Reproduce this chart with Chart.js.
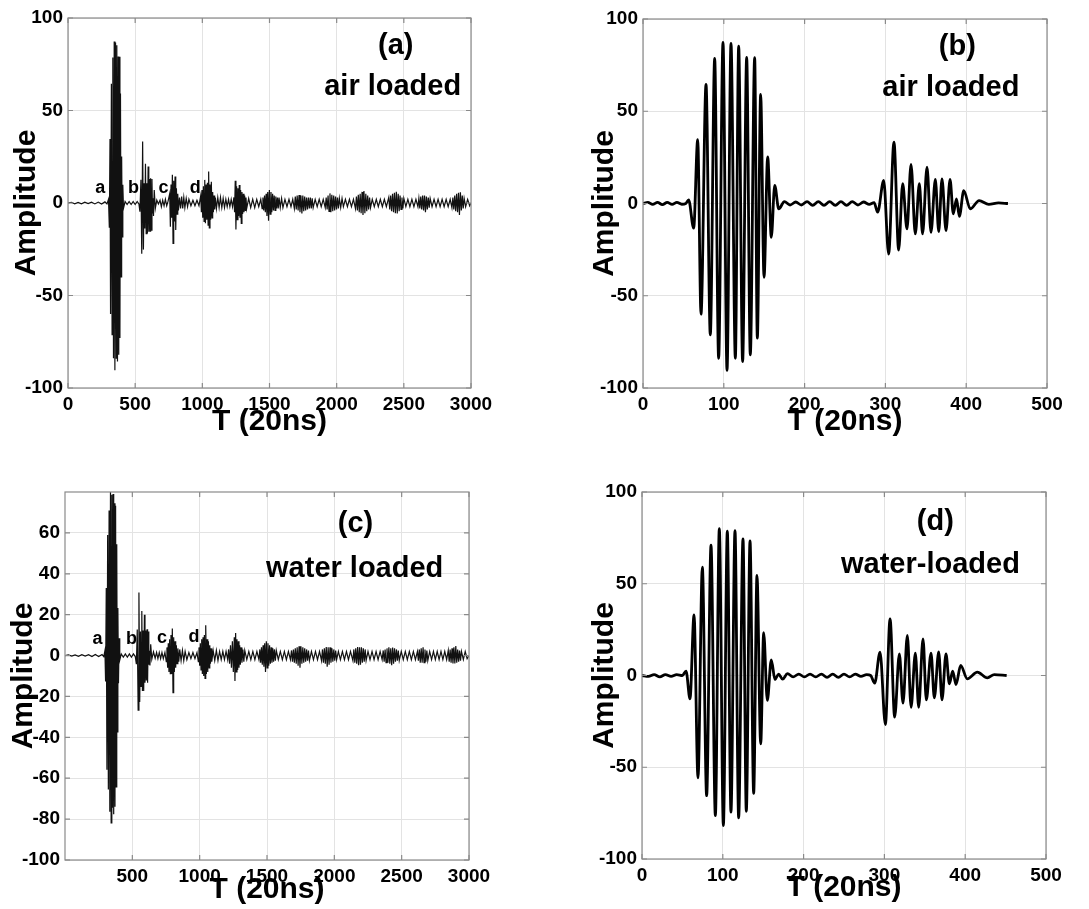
<!DOCTYPE html>
<html>
<head>
<meta charset="utf-8">
<script src="https://cdn.jsdelivr.net/npm/chart.js@4.4.1/dist/chart.umd.min.js"></script>
<style>
body { margin: 0; background: #fff; }
#wrap { position: relative; width: 1089px; height: 909px; }
canvas { position: absolute; }
</style>
</head>
<body>
<div id="wrap">
<canvas id="pa" width="545" height="450" style="left:0;top:0"></canvas>
<canvas id="pb" width="544" height="450" style="left:545px;top:0"></canvas>
<canvas id="pc" width="545" height="449" style="left:0;top:460px"></canvas>
<canvas id="pd" width="544" height="449" style="left:545px;top:460px"></canvas>
</div>
<script>
// (a) air loaded, full record (T in 20ns units)
var aTime = [
  0,25,50,75,100,125,150,175,200,225,250,275,290,
  301.5,307.7,312.7,316.8,323,328.3,333.7,338.6,344,349,353.9,359.3,363.4,368.3,373.3,377.8,383.2,386.5,390.6,394.8,399.3,403.8,408,413,
  425,440,455,470,485,500,515,528,
  535.4,542.9,549,555.6,561.4,566.4,571.7,576.7,582,587,591,596.5,601.4,606.8,611,615,620,625,629,633,636.5,642,650,661,673,
  685,695,705,715,725,735,745,
  757,762,767,772,777,782,787,792,797,802,807,812,817,822,
  830,838,846,854,862,870,880,890,900,915,930,945,960,975,
  988,993,998,1003,1008,1013,1018,1023,1028,1033,1038,1043,1047,1052,1057,1062,1067,1072,1077,1082,1087,1092,1097,
  1105,1115,1125,1135,1145,1155,1165,1175,1185,1195,1205,1215,1225,
  1235,1240,1245,1250,1255,1260,1265,1270,1275,1280,1285,1290,1295,1300,1305,1310,1315,1320,1325,1330,
  1345,1360,1375,1390,1405,1420,1435,
  1445,1451,1457,1463,1469,1475,1481,1487,1493,1499,1505,1511,1517,1523,1529,1535,1541,1547,1553,1559,1565,1571,1580,1590,1600,
  1615,1630,1645,1660,1673,
  1685,1692,1699,1706,1713,1720,1727,1734,1741,1748,1755,1762,1769,1776,1783,1790,1797,1804,1811,1818,1825,
  1840,1855,1870,1885,1900,
  1915,1922,1929,1936,1943,1950,1957,1964,1971,1978,1985,1992,1999,2006,2013,2020,2030,2040,2050,
  2065,2080,2095,2110,2125,
  2140,2147,2154,2161,2168,2175,2182,2189,2196,2203,2210,2217,2224,2231,2238,2245,2252,
  2265,2280,2295,2310,2325,2340,2355,2370,
  2388,2395,2402,2409,2416,2423,2430,2437,2444,2451,2458,2465,2472,2479,2486,2493,2500,
  2515,2530,2545,2560,2575,2590,2605,
  2612,2619,2626,2633,2640,2647,2654,2661,2668,2675,2682,2689,2696,
  2710,2725,2740,2755,2770,2785,2800,2815,2830,2845,
  2858,2865,2872,2879,2886,2893,2900,2907,2914,2921,2928,2935,2942,2949,
  2960,2975,2990,3000
];
var aAmp = [
  0,0.4,-0.4,0.3,-0.4,0.4,-0.3,0.4,-0.5,0.5,-0.6,0.6,-0.5,
  2,-13.4,34.6,-60,64.5,-71.2,78.6,-83.9,87.3,-90.4,86.8,-83.9,85.3,-85.7,79.2,-82,79,-73,59.2,-40,25.2,-18.3,9.8,-2.9,
  0.8,-0.8,0.8,-0.8,0.8,-0.8,0.8,-0.5,
  -4.7,12.5,-27.4,33.3,-25.2,10.7,-13.8,21.2,-16.5,10.7,-16.5,19.7,-15.6,13,-15.2,13.4,-14.7,13,-5.6,2.5,-7,7,-2.9,1.6,-0.5,
  1.5,-2,1.5,-1.5,2,-1.5,1,
  5,-12.8,10,-8,15.2,-21.8,12,-10,14.3,-14.6,8,-6,5,-4,
  3,-3,3.5,-3,3,-2.5,2.5,-2,2,-1.5,1.5,-1.5,1.5,-1.5,
  4,-5,7,-8,9,-10,12.5,-11,10,-9,11,-12,17,-13.4,10,-9,11.5,-8,6,-5,4,-3.5,3,
  -3,3,-2.5,3,-2.5,2.5,-2.5,2,-2,2,-2,2,-2,
  3,-5,12,-14.3,9,-9,8,-7,9.7,-8,7,-11,6,-6,5,-5,4,-4,3,-3,
  2.5,-2.5,2,-2.5,2,-2,2,
  -3,3,-4,4,-5,5,-7,6,-9.6,7,-6,6,-5,5,-4,4,-4,3.5,-3,3,-3,3,-2.5,2.5,-2.5,
  2,-2,2,-2,2,
  -3,3.5,-3.5,4,-4,4.3,-5,4,-5.6,4,-4.5,3.5,-4,3,-3.5,3,-3,3,-3,2.5,-2.5,
  2,-2,2,-2,2,
  -2.5,3,-3.5,4,-4.5,5.2,-5,4.5,-4.5,4,-4,3.5,-3.5,3,-3,2.5,-2.5,2.5,-2,
  2,-2,2,-2,2,
  -3,3.5,-4,4.5,-5,5,-5.5,6,-6.5,6.5,-5.5,5,-4.5,4,-3.5,3,-2.5,
  2,-2,2,-2,2,-2,2,-2,
  3,-3.5,4,-4.5,5,-5,5.5,-5.5,6,-5.6,5,-4.5,4,-3.5,3,-3,2.5,
  -2,2,-2,2,-2,2,-2,
  2.5,-3,3.5,-3.5,4,-4,4,-5,3.5,-3.5,3,-2.5,2.5,
  -2,2,-2,2,-2,2,-2,2,-2,2,
  -2.5,3,-3.5,4,-4.5,5,-5,5.5,-6.5,5.8,-4,4,-3,2.5,
  -2,2,-1.5,0
];

// (b) air loaded, window
var bTime = [0,6,12,18,24,30,36,42,48,53,56.5,62.7,67.7,71.8,78,83.3,88.7,93.6,99,104,108.9,114.3,118.4,123.3,128.3,132.8,138.2,141.5,145.6,149.8,154.3,158.8,163,168,175,182,189,196,203,210,217,224,231,238,245,252,259,266,273,280,286,290.4,297.9,304,310.6,316.4,321.4,326.7,331.7,337,342,346,351.5,356.4,361.8,366,370,375,380,384,388,391.5,397,405,416,428,440,451.7];
var bAmp = [0,0.6,-0.5,0.6,-0.6,0.6,-0.5,0.6,-0.4,0,2,-13.4,34.6,-60,64.5,-71.2,78.6,-83.9,87.3,-90.4,86.8,-83.9,85.3,-85.7,79.2,-82,79,-73,59.2,-40,25.2,-18.3,9.8,-2.9,1,-0.8,0.8,-0.8,1,-1,1,-1,1,-1,1,-1,1,-0.8,0.8,-0.5,0.5,-4.7,12.5,-27.4,33.3,-25.2,10.7,-13.8,21.2,-16.5,10.7,-16.5,19.7,-15.6,13,-15.2,13.4,-14.7,13,-5.6,2.5,-7,7,-2.9,1.6,-0.5,0.3,0];

// (c) water loaded, full record
var cTime = [
  0,25,50,75,100,125,150,175,200,225,250,275,288,
  296.5,301.4,306.4,311.3,316.7,322,327.4,332.8,337.7,342.7,347.6,352.1,357.1,361.6,367,371.1,375.7,380.2,384.3,388.9,392.6,397.1,402,406.6,
  418,433,448,463,478,493,508,522,
  530,536.6,543.2,549,554.7,560.5,565,570.4,575,580.3,584.4,589.8,593.9,599.7,603.8,609.2,613.3,618.2,622.4,626.5,630.6,636.4,644.6,657,669.4,
  680,690,700,710,720,730,742,
  752,757,762,767,772,777,782,787,792,797,802,807,812,817,822,827,832,838,845,852,
  862,872,882,892,905,920,935,950,965,980,
  990,995,1000,1005,1010,1015,1020,1025,1030,1035,1040,1045,1050,1055,1060,1065,1070,1075,1080,1085,1090,
  1100,1112,1124,1136,1148,1160,1172,1184,1196,1208,
  1215,1222,1229,1236,1243,1250,1257,1262,1267,1272,1277,1282,1287,1292,1297,1302,1307,1314,1321,1328,1335,
  1350,1365,1380,1395,1410,1425,1440,
  1447,1453,1459,1465,1471,1477,1483,1489,1495,1501,1507,1513,1519,1525,1531,1537,1543,1549,1555,1562,1569,
  1584,1599,1614,1629,1644,1659,1674,
  1682,1689,1696,1703,1710,1717,1724,1731,1738,1745,1752,1759,1766,1773,1780,1787,1794,1801,1808,1815,
  1830,1845,1860,1875,1890,
  1905,1912,1919,1926,1933,1940,1947,1954,1961,1968,1975,1982,1989,1996,2003,2010,2017,
  2030,2045,2060,2075,2090,2105,2120,
  2138,2145,2152,2159,2166,2173,2180,2187,2194,2201,2208,2215,2222,2229,2236,
  2250,2265,2280,2295,2310,2325,2340,2355,
  2363,2370,2377,2384,2391,2398,2405,2412,2419,2426,2433,2440,2447,2454,2461,2468,2475,2482,
  2497,2512,2527,2542,2557,2572,2587,2602,2617,
  2624,2631,2638,2645,2652,2659,2666,2673,2680,2687,2694,
  2708,2722,2736,2750,2764,2778,2792,2806,2820,2834,
  2846,2853,2860,2867,2874,2881,2888,2895,2902,2909,2916,2923,2930,2937,2944,
  2958,2972,2986,3000
];
var cAmp = [
  0,0.3,-0.3,0.3,-0.4,0.4,-0.3,0.4,-0.5,0.5,-0.5,0.5,-0.5,
  2.4,-12.7,33,-55.8,59,-65.5,71,-76.4,80,-81.8,78.7,-74.5,79,-77.6,74.5,-74,73.3,-64.2,54.5,-37.3,23.3,-13.6,8.5,-2.2,
  0.8,-0.8,0.8,-0.8,0.8,-0.8,0.8,-0.5,
  -4.2,12.7,-26.7,30.9,-22.7,11.8,-15.1,21.8,-17.3,12.2,-17.3,20,-13.3,12.2,-12.2,12.9,-13.3,11.8,-4.5,2.4,-4.9,5.5,-1.8,1.8,-1.3,
  1.5,-1.5,1.5,-1.5,1.5,-1.5,1.5,
  -3,4,-6,6,-8,8,-8.8,10,-9,13.2,-18.2,9,-8,7,-6,5,-4,3.5,-3,3,
  -2.5,2.5,-2.5,2,-2,1.5,-1.5,1.5,-1.5,1.5,
  -3,4,-5,6,-7,8,-9,9,-10,10,-11.2,14.8,-9,8,-8,7,-6,5,-4,3.5,-3,
  2.5,-2.5,2.5,-2.5,2,-2,2,-2,2,-2,
  3,-4,5,-6,7,-8,9,-12.4,11,-8,8,-7,7,-6,5,-4.5,4,-3.5,3,-3,2.5,
  -2,2,-2,2,-2,2,-2,
  3,-3.5,4,-4.5,5,-5.5,6,-8,7,-6,6,-5,5,-4,4,-3.5,3.5,-3,3,-2.5,2.5,
  -2,2,-2,2,-2,2,-2,
  2.5,-3,3,-3.5,3.5,-4,4,-5,4.5,-6,4.5,-4,4,-3.5,3.5,-3,3,-2.5,2.5,-2.5,
  2,-2,2,-2,2,
  -2.5,3,-3.5,3.5,-4,4.2,-5.5,4,-4.5,4,-3.5,3.5,-3,3,-2.5,2.5,-2,
  2,-2,2,-2,2,-2,2,
  -2.5,3,-3.5,3.5,-4,4.2,-4.7,4,-4.5,4,-3.5,3.5,-3,3,-2.5,
  2,-2,2,-2,2,-2,2,-2,
  2.5,-3,3,-3.5,3.5,-3.5,4,-4,3.5,-4.7,3.9,-4,3.5,-3,3,-2.5,2.5,-2.5,
  2,-2,2,-2,2,-2,2,-2,2,
  -2.5,3,-3.5,3.5,-3.5,4,-3.5,3,-3,2.5,-2.5,
  2,-2,2,-2,2,-2,2,-2,2,-2,
  2.5,-3,3,-3.5,3.5,-3.9,4,-3.9,4.7,-3.5,3,-3,2.5,-2.5,2,
  -2,2,-1.5,0
];

// (d) water-loaded, window
var dTime = [0,8,15,22,29,36,43,50,54.5,59.4,64.4,69.3,74.7,80,85.4,90.8,95.7,100.7,105.6,110.1,115.1,119.6,125,129.1,133.7,138.2,142.3,146.9,150.6,155.1,160,164.6,169,174,180,187,194,201,208,215,222,229,236,243,250,257,264,271,278,283,288,294.6,301.2,307,312.7,318.5,323,328.4,333,338.3,342.4,347.8,351.9,357.7,361.8,367.2,371.3,376.2,380.4,384.5,388.6,394.4,402.6,415,427.4,436,451.3];
var dAmp = [0,-0.5,0.5,-0.8,0.5,-0.5,0.5,0,2.4,-12.7,33,-55.8,59,-65.5,71,-76.4,80,-81.8,78.7,-74.5,79,-77.6,74.5,-74,73.3,-64.2,54.5,-37.3,23.3,-13.6,8.5,-2.2,0.8,-2,1,-0.8,0.8,-0.8,0.8,-0.8,0.8,-1,0.8,-1,0.8,-0.8,0.8,-0.5,0.5,0,-4.2,12.7,-26.7,30.9,-22.7,11.8,-15.1,21.8,-17.3,12.2,-17.3,20,-13.3,12.2,-12.2,12.9,-13.3,11.8,-4.5,2.4,-4.9,5.5,-1.8,1.8,-1.3,0.5,0];

// tick values
var longXTicks = [0, 500, 1000, 1500, 2000, 2500, 3000];
var longXTicksC = [500, 1000, 1500, 2000, 2500, 3000];
var shortXTicks = [0, 100, 200, 300, 400, 500];
var ampTicks = [-100, -50, 0, 50, 100];
var ampTicksC = [-100, -80, -60, -40, -20, 0, 20, 40, 60];

// text written inside the plots: [text, T, amplitude, font size]
var notesA = [['(a)', 2440, 84.6, 29], ['air loaded', 2417, 62.6, 29], ['a', 240, 8, 18], ['b', 488, 8, 18], ['c', 711, 8, 18], ['d', 947, 8, 18]];
var notesB = [['(b)', 389, 84.6, 29], ['air loaded', 381, 62.7, 29]];
var notesC = [['(c)', 2157, 64.5, 29], ['water loaded', 2151, 42.5, 29], ['a', 241, 8.3, 18], ['b', 493, 8.3, 18], ['c', 720, 8.8, 18], ['d', 958, 9.1, 18]];
var notesD = [['(d)', 363, 83.7, 29], ['water-loaded', 357, 60.1, 29]];

var FONT = "'Liberation Sans', Arial, Helvetica, sans-serif";

function panel(id, times, amps, o) {
  var pts = times.map(function (t, i) { return { x: t, y: amps[i] }; });

  // box around the plot, inward tick marks and the text notes
  var framePlugin = {
    id: 'frame',
    afterDraw: function (chart) {
      var ctx = chart.ctx, a = chart.chartArea;
      var sx = chart.scales.x, sy = chart.scales.y;
      ctx.save();
      ctx.strokeStyle = '#8a8a8a';
      ctx.lineWidth = 1.2;
      ctx.strokeRect(a.left, a.top, a.right - a.left, a.bottom - a.top);
      ctx.beginPath();
      sx.ticks.forEach(function (t) {
        var p = sx.getPixelForValue(t.value);
        ctx.moveTo(p, a.bottom); ctx.lineTo(p, a.bottom - 5);
        ctx.moveTo(p, a.top); ctx.lineTo(p, a.top + 5);
      });
      sy.ticks.forEach(function (t) {
        var p = sy.getPixelForValue(t.value);
        ctx.moveTo(a.left, p); ctx.lineTo(a.left + 5, p);
        ctx.moveTo(a.right, p); ctx.lineTo(a.right - 5, p);
      });
      ctx.stroke();
      ctx.fillStyle = '#000';
      ctx.textAlign = 'center';
      ctx.textBaseline = 'middle';
      o.notes.forEach(function (n) {
        ctx.font = 'bold ' + n[3] + 'px ' + FONT;
        ctx.fillText(n[0], sx.getPixelForValue(n[1]), sy.getPixelForValue(n[2]));
      });
      ctx.restore();
    }
  };

  new Chart(document.getElementById(id), {
    type: 'line',
    data: {
      datasets: [{
        data: pts,
        borderColor: o.color,
        borderWidth: o.lw,
        pointRadius: 0,
        fill: false,
        tension: 0,
        cubicInterpolationMode: o.smooth ? 'monotone' : 'default'
      }]
    },
    options: {
      responsive: false,
      animation: false,
      events: [],
      layout: { padding: { left: 0, right: o.padR, top: o.padT, bottom: 0 } },
      plugins: { legend: { display: false }, tooltip: { enabled: false } },
      scales: {
        x: {
          type: 'linear',
          min: o.xMin, max: o.xMax,
          afterFit: function (s) { s.height = o.xH; },
          afterBuildTicks: function (s) { s.ticks = o.xTicks.map(function (v) { return { value: v }; }); },
          ticks: {
            autoSkip: false, maxRotation: 0, padding: 5, color: '#000',
            font: { family: FONT, size: 19, weight: 'bold' },
            callback: function (v) { return String(v); }
          },
          grid: { color: '#e3e3e3', drawTicks: false },
          border: { display: false },
          title: {
            display: true, text: 'T (20ns)', color: '#000',
            font: { family: FONT, size: 30, weight: 'bold' },
            padding: { top: 0, bottom: o.xTitlePad }
          }
        },
        y: {
          type: 'linear',
          min: o.yMin, max: o.yMax,
          afterFit: function (s) { s.width = o.yW; },
          afterBuildTicks: function (s) { s.ticks = o.yTicks.map(function (v) { return { value: v }; }); },
          ticks: {
            autoSkip: false, padding: 5, color: '#000',
            font: { family: FONT, size: 19, weight: 'bold' },
            callback: function (v) { return String(v); }
          },
          grid: { color: '#e3e3e3', drawTicks: false },
          border: { display: false },
          title: {
            display: true, text: 'Amplitude', color: '#000',
            font: { family: FONT, size: 30, weight: 'bold' },
            padding: { top: o.yTitlePad, bottom: 0 }
          }
        }
      }
    },
    plugins: [framePlugin]
  });
}

panel('pa', aTime, aAmp, {
  color: '#111', lw: 1.2, smooth: false,
  xMin: 0, xMax: 3000, yMin: -100, yMax: 100, xTicks: longXTicks, yTicks: ampTicks,
  padR: 74, padT: 18, xH: 62, yW: 68, xTitlePad: 10, yTitlePad: 9, notes: notesA
});
panel('pb', bTime, bAmp, {
  color: '#000', lw: 2.8, smooth: true,
  xMin: 0, xMax: 500, yMin: -100, yMax: 100, xTicks: shortXTicks, yTicks: ampTicks,
  padR: 42, padT: 19, xH: 62, yW: 98, xTitlePad: 10, yTitlePad: 42, notes: notesB
});
panel('pc', cTime, cAmp, {
  color: '#111', lw: 1.2, smooth: false,
  xMin: 0, xMax: 3000, yMin: -100, yMax: 80, xTicks: longXTicksC, yTicks: ampTicksC,
  padR: 76, padT: 32, xH: 49, yW: 65, xTitlePad: 1, yTitlePad: 6, notes: notesC
});
panel('pd', dTime, dAmp, {
  color: '#000', lw: 2.8, smooth: true,
  xMin: 0, xMax: 500, yMin: -100, yMax: 100, xTicks: shortXTicks, yTicks: ampTicks,
  padR: 43, padT: 32, xH: 50, yW: 97, xTitlePad: 3, yTitlePad: 42, notes: notesD
});
</script>
</body>
</html>
